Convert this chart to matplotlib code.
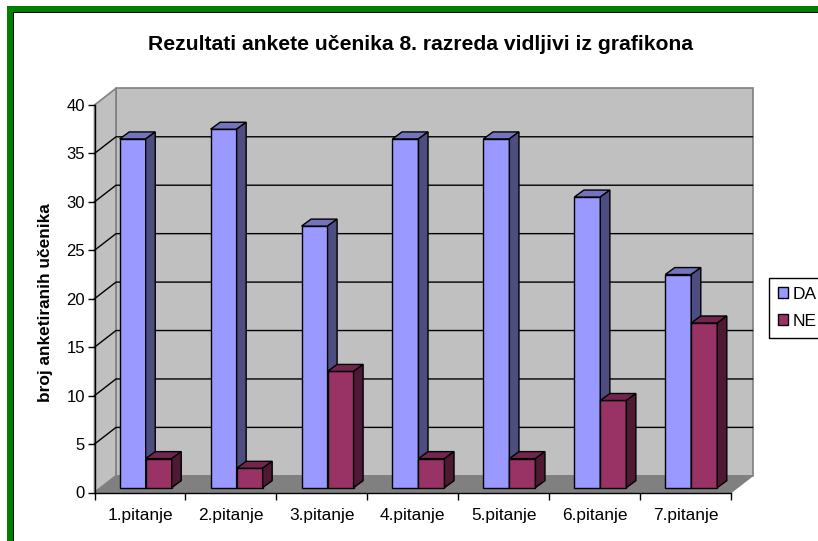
import matplotlib
matplotlib.use("Agg")
import matplotlib.pyplot as plt
from matplotlib.patches import Polygon, Rectangle, Patch

categories = ["1.pitanje", "2.pitanje", "3.pitanje", "4.pitanje", "5.pitanje", "6.pitanje", "7.pitanje"]
da_values = [36, 37, 27, 36, 36, 30, 22]
ne_values = [3, 2, 12, 3, 3, 9, 17]
y_ticks = [0, 5, 10, 15, 20, 25, 30, 35, 40]

W, H = 818, 541
# 3d look, in axis units
WALL_DX, WALL_DY = 0.2365, 1.72
BAR_DX, BAR_DY = 0.105, 0.72
BAR_W = 0.286
BAR_X0, BAR_Y0 = 0.277, 0.5

plt.rcParams["font.family"] = ["Liberation Sans", "DejaVu Sans"]

fig = plt.figure(figsize=(W / 100, H / 100), dpi=100, facecolor="white")

# green frame, open on the right and at the bottom
fig.add_artist(Rectangle((7 / W, 0), 6 / W, 1 - 6 / H, transform=fig.transFigure, fc="#008000", ec="none"))
fig.add_artist(Rectangle((7 / W, 1 - 12 / H), 1 - 7 / W, 6 / H, transform=fig.transFigure, fc="#008000", ec="none"))
fig.add_artist(Rectangle((13 / W, 0), 1 / W, 1 - 12 / H, transform=fig.transFigure, fc="black", ec="none"))
fig.add_artist(Rectangle((13 / W, 1 - 13 / H), 1 - 13 / W, 1 / H, transform=fig.transFigure, fc="black", ec="none"))

ax = fig.add_axes([94.5 / W, 1 - 492.5 / H, (731 - 94.5) / W, (492.5 - 105) / H])
ax.set_xlim(0, len(categories))
ax.set_ylim(0, 40)
ax.patch.set_visible(False)
for side in ["top", "right", "bottom"]:
    ax.spines[side].set_visible(False)
ax.spines["left"].set_linewidth(1)
ax.spines["left"].set_zorder(5)


def poly(points, fc, ec="black", lw=1.0, z=2):
    ax.add_patch(Polygon(points, closed=True, fc=fc, ec=ec, lw=lw, zorder=z, clip_on=False, joinstyle="miter"))


n = len(categories)
# back wall, side wall, floor
poly([(WALL_DX, WALL_DY), (n + WALL_DX, WALL_DY), (n + WALL_DX, 40 + WALL_DY), (WALL_DX, 40 + WALL_DY)],
     "#C0C0C0", ec="#808080", lw=1.2, z=1)
poly([(0, 0), (WALL_DX, WALL_DY), (WALL_DX, 40 + WALL_DY), (0, 40)], "#C0C0C0", ec="#808080", lw=1.2, z=1)
poly([(0, 0), (n, 0), (n + WALL_DX, WALL_DY), (WALL_DX, WALL_DY)], "#808080", ec="#808080", lw=1, z=1)

# grid on both walls, the top edge stays grey
for t in y_ticks[1:-1]:
    ax.plot([0, WALL_DX, n + WALL_DX], [t, t + WALL_DY, t + WALL_DY], color="black", lw=1,
            zorder=1.5, clip_on=False, solid_joinstyle="miter")


def draw_bar(x, v, front, top, side, z):
    y0 = BAR_Y0
    ax.bar(x, v, BAR_W, bottom=y0, align="edge", color=front, edgecolor="black", linewidth=1, zorder=z, clip_on=False)
    poly([(x, y0 + v), (x + BAR_W, y0 + v), (x + BAR_W + BAR_DX, y0 + v + BAR_DY), (x + BAR_DX, y0 + v + BAR_DY)], top, z=z)
    poly([(x + BAR_W, y0), (x + BAR_W + BAR_DX, y0 + BAR_DY), (x + BAR_W + BAR_DX, y0 + v + BAR_DY), (x + BAR_W, y0 + v)], side, z=z)


for i in range(n):
    x = i + BAR_X0
    draw_bar(x, da_values[i], "#9999FF", "#7373BF", "#4D4D80", 3 + i * 2)
    draw_bar(x + BAR_W, ne_values[i], "#993366", "#73264D", "#4D1933", 4 + i * 2)

ax.set_yticks(y_ticks)
ax.tick_params(axis="y", length=5, width=1, labelsize=12, pad=2, colors="black")
ax.set_xticks(range(n + 1))
ax.set_xticklabels([])
ax.tick_params(axis="x", which="major", length=5, width=1, color="black")
ax.set_xticks([i + 0.5 for i in range(n)], minor=True)
ax.set_xticklabels(categories, minor=True, fontsize=12.4)
ax.tick_params(axis="x", which="minor", length=0, pad=11)
ax.plot([0, n], [0, 0], color="black", lw=1, zorder=2.5, clip_on=False)

fig.text(420 / W, 1 - 44 / H, "Rezultati ankete učenika 8. razreda vidljivi iz grafikona",
         ha="center", va="center", fontsize=15.2, fontweight="bold")
fig.text(46 / W, 1 - 303 / H, "broj anketiranih učenika", rotation=90,
         ha="center", va="center", fontsize=12.4, fontweight="bold")

handles = [Patch(fc="#9999FF", ec="black", label="DA"), Patch(fc="#993366", ec="black", label="NE")]
fig.legend(handles=handles, loc="upper left", bbox_to_anchor=(769 / W, 1 - 278 / H),
           frameon=True, fancybox=False, edgecolor="black", framealpha=1, fontsize=12.5,
           handlelength=0.58, handleheight=0.58, handletextpad=0.3, labelspacing=0.7,
           borderpad=0.5, borderaxespad=0)

fig.savefig("out.png", dpi=100)
